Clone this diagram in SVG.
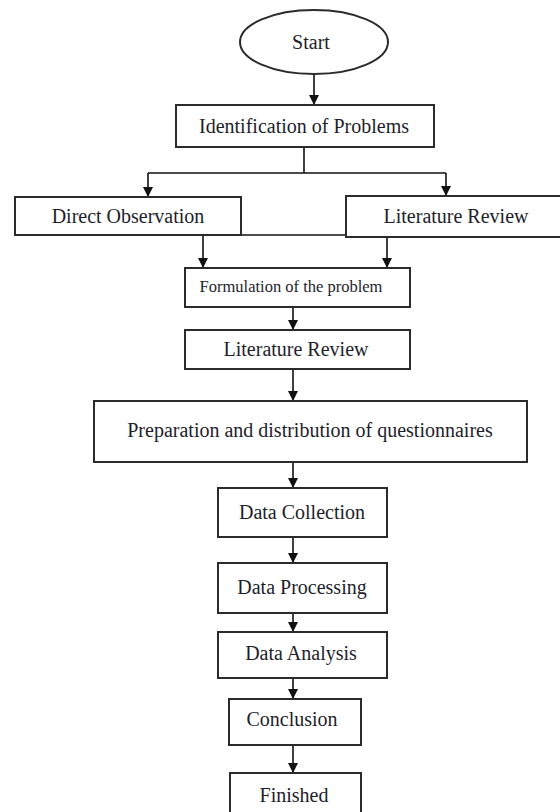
<svg xmlns="http://www.w3.org/2000/svg" width="560" height="812" viewBox="0 0 560 812">
<style>
.box{fill:#fff;stroke:#2b2b2b;stroke-width:2}
.t{font-family:"Liberation Serif","Times New Roman",serif;font-size:20px;fill:#1e1e2a;text-anchor:middle}
.s{font-size:16.5px}
.ln{fill:none;stroke:#111;stroke-width:1.6}
.ar{fill:none;stroke:#111;stroke-width:1.6;marker-end:url(#ah)}
</style>
<defs>
<marker id="ah" markerUnits="userSpaceOnUse" markerWidth="12" markerHeight="12" refX="10" refY="5" orient="auto">
<path d="M0,0 L10,5 L0,10 Z" fill="#111"/>
</marker>
</defs>
<rect width="560" height="812" fill="#fff"/>
<g id="connectors">
<path class="ar" d="M314,74 V105"/>
<path class="ln" d="M304,147 V173 M148,173 H446"/>
<path class="ar" d="M148,173 V197"/>
<path class="ar" d="M446,173 V196"/>
<path class="ln" d="M241,235 H346"/>
<path class="ar" d="M203,235 V268"/>
<path class="ar" d="M387,237 V268"/>
<path class="ar" d="M293,307 V330"/>
<path class="ar" d="M293,369 V401"/>
<path class="ar" d="M293,462 V488"/>
<path class="ar" d="M293,537 V563"/>
<path class="ar" d="M293,613 V632"/>
<path class="ar" d="M293,678 V699"/>
<path class="ar" d="M293,745 V773"/>
</g>
<g id="start">
<ellipse class="box" cx="314" cy="42" rx="74" ry="32"/>
<text class="t" x="311" y="49">Start</text>
</g>
<g id="identification">
<rect class="box" x="176" y="105" width="258" height="42"/>
<text class="t" x="304" y="133">Identification of Problems</text>
</g>
<g id="direct-observation">
<rect class="box" x="15" y="197" width="226" height="38"/>
<text class="t" x="128" y="223">Direct Observation</text>
</g>
<g id="literature-review-1">
<rect class="box" x="346" y="196" width="220" height="41"/>
<text class="t" x="456" y="223">Literature Review</text>
</g>
<g id="formulation">
<rect class="box" x="185" y="268" width="225" height="39"/>
<text class="t s" x="291" y="292">Formulation of the problem</text>
</g>
<g id="literature-review-2">
<rect class="box" x="185" y="330" width="225" height="39"/>
<text class="t" x="296" y="356">Literature Review</text>
</g>
<g id="preparation">
<rect class="box" x="94" y="401" width="433" height="61"/>
<text class="t" x="310" y="437">Preparation and distribution of questionnaires</text>
</g>
<g id="data-collection">
<rect class="box" x="218" y="488" width="169" height="49"/>
<text class="t" x="302" y="519">Data Collection</text>
</g>
<g id="data-processing">
<rect class="box" x="218" y="563" width="169" height="50"/>
<text class="t" x="302" y="594">Data Processing</text>
</g>
<g id="data-analysis">
<rect class="box" x="218" y="632" width="169" height="46"/>
<text class="t" x="301" y="660">Data Analysis</text>
</g>
<g id="conclusion">
<rect class="box" x="229" y="699" width="132" height="46"/>
<text class="t" x="292" y="726">Conclusion</text>
</g>
<g id="finished">
<rect class="box" x="230" y="773" width="131" height="44"/>
<text class="t" x="294" y="802">Finished</text>
</g>
</svg>
